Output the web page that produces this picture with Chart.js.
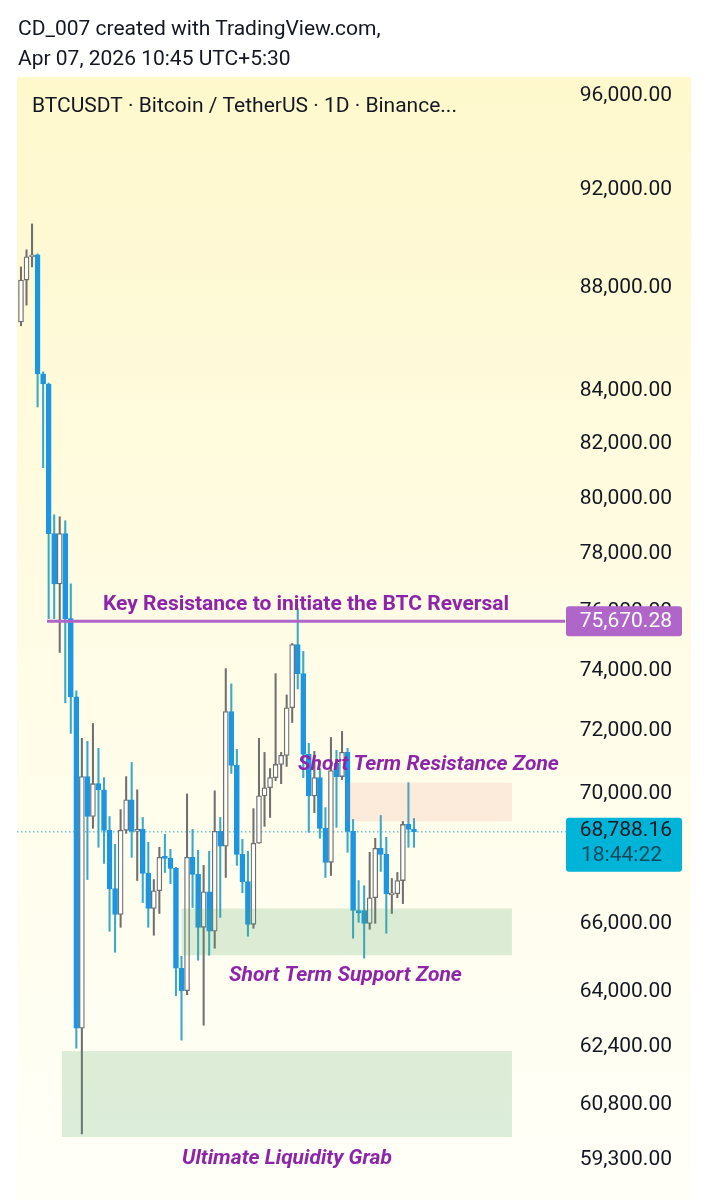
<!DOCTYPE html>
<html>
<head>
<meta charset="utf-8">
<title>BTCUSDT</title>
<script src="https://cdn.jsdelivr.net/npm/chart.js@4/dist/chart.umd.min.js"></script>
<style>
    html, body { margin: 0; padding: 0; background: #fff; }
    #wrap { position: relative; width: 708px; height: 1200px; overflow: hidden; }
    #chart { position: absolute; left: 0; top: 0; }
    #header {
        position: absolute; left: 18px; top: 13px; z-index: 2;
        font: 21px/30px Roboto, sans-serif; color: #131722; white-space: nowrap;
    }
</style>
</head>
<body>
<div id="wrap">
    <div id="header">CD_007 created with TradingView.com,<br>Apr 07, 2026 10:45 UTC+5:30</div>
    <canvas id="chart" width="708" height="1200"></canvas>
</div>
<script>
// --- Data ---
const opens = [86650,88305,89239,89320,84634,84246,78732,76961,78732,75758,73120,62940,70531,69269,70305,70111,68836,67042,66265,68836,69794,68805,68866,67506,66442,66980,68000,67969,67660,64669,64018,68000,67475,65880,66949,65762,68805,68341,72635,70888,68093,67258,65969,68434,69918,70176,70499,70920,71211,72764,74878,73896,71243,69918,70499,68897,67846,70952,70531,71308,68805,66383,66383,65998,66767,68279,68093,66856,66887,67289,69021,68866];
const highs = [88833,89523,90578,89361,84712,84285,79405,79334,79192,76961,73320,71761,71664,72247,71438,70499,69269,68403,69485,70531,70985,70111,69238,68465,67320,68310,68712,68248,67691,65023,69980,68866,68217,67753,68186,70078,69238,74065,73557,71405,68558,68186,69516,71761,71308,70790,73896,71308,73185,74912,76097,74641,71600,71340,70790,69547,71793,71373,71988,71438,69176,67289,67134,68155,68589,69300,68620,67351,67536,69114,70337,69207];
const lows = [86495,87309,88833,83375,81114,75758,75758,74607,72926,71923,62375,59995,67320,68897,68310,67815,65762,65141,65880,68743,68000,67289,66620,65880,65644,66294,67536,67196,63872,62600,63900,66472,64905,63024,65053,65259,66176,67382,70629,67753,66918,65614,65851,68434,68959,69238,70402,70305,70855,72279,73388,70499,68774,69392,68589,67382,67444,68928,70434,68155,65555,66028,64964,65821,65998,67567,65703,66294,66767,66590,68310,68310];
const closes = [88305,89239,89320,84634,84246,78732,76961,78732,75758,73120,62940,70531,69269,70305,70111,68836,67042,66265,68836,69794,68805,68866,67506,66442,66980,68000,67969,67660,64669,64018,68000,67475,65880,66949,65762,68805,68341,72635,70888,68093,67258,65969,68434,69918,70176,70499,70920,71211,72764,74878,73896,71243,69918,70499,68897,67846,70726,70531,71308,68805,66383,66310,65998,66767,68279,68093,66887,66887,67289,69021,68866,68788];

const tickValues = [96000,92000,88000,84000,82000,80000,78000,76000,74000,72000,70000,66000,64000,62400,60800,59300];
const keyResistance = 75670.28;
const lastPrice = 68788.16;
const countdown = '18:44:22';

// zones: [first bar, last bar, low price, high price]
const resistanceZone = [58.9, 88.7, 69114, 70337];
const supportZone = [29, 88.7, 65053, 66442];
const liquidityZone = [7.4, 88.7, 59914, 62290];

// --- Colours ---
const BLUE = '#1C96E0';
const BLUE_WICK = '#37A9C9';
const GREY = '#707073';
const HOLLOW = '#FFFFFA';
const PURPLE_TEXT = '#8E24AA';

const isUp = closes.map((c, i) => c >= opens[i]);

function fmt(v) {
    return v.toLocaleString('en-US', { minimumFractionDigits: 2, maximumFractionDigits: 2 });
}

// Plot background and zones
const backgroundPlugin = {
    id: 'background',
    beforeDraw(chart) {
        const { ctx, chartArea: a } = chart;
        const g = ctx.createLinearGradient(0, a.top, 0, a.bottom);
        g.addColorStop(0, '#FEF8CC');
        g.addColorStop(0.5, '#FFFCE6');
        g.addColorStop(1, '#FFFFF8');
        ctx.fillStyle = g;
        ctx.fillRect(a.left, a.top, a.right - a.left, a.bottom - a.top);
    }
};

function drawZone(chart, zone, colour) {
    const { ctx, scales: { x, y } } = chart;
    const left = x.getPixelForValue(zone[0]);
    const right = x.getPixelForValue(zone[1]);
    const top = y.getPixelForValue(zone[3]);
    const bottom = y.getPixelForValue(zone[2]);
    ctx.fillStyle = colour;
    ctx.fillRect(left, top, right - left, bottom - top);
}

// Zones sit over the candles, half see-through
const zonesPlugin = {
    id: 'zones',
    afterDatasetsDraw(chart) {
        drawZone(chart, resistanceZone, 'rgba(235,120,120,0.14)');
        drawZone(chart, supportZone, 'rgba(80,165,100,0.2)');
        drawZone(chart, liquidityZone, 'rgba(80,165,100,0.2)');
    }
};

function text(ctx, str, x, y, font, colour, align) {
    ctx.font = font;
    ctx.fillStyle = colour;
    ctx.textAlign = align || 'left';
    ctx.textBaseline = 'middle';
    ctx.fillText(str, x, y);
}

const labelsPlugin = {
    id: 'labels',
    afterDraw(chart) {
        const { ctx, scales: { y } } = chart;
        ctx.save();
        text(ctx, 'BTCUSDT · Bitcoin / TetherUS · 1D · Binance...', 32, 107, '21px Roboto', '#131722');
        text(ctx, 'Key Resistance to initiate the BTC Reversal', 103, 605, 'bold 21px Roboto', PURPLE_TEXT);
        text(ctx, 'Short Term Resistance Zone', 298, 765, 'italic bold 21px Roboto', PURPLE_TEXT);
        text(ctx, 'Short Term Support Zone', 229, 976, 'italic bold 21px Roboto', PURPLE_TEXT);
        text(ctx, 'Ultimate Liquidity Grab', 182, 1159, 'italic bold 21px Roboto', PURPLE_TEXT);

        // price tags on the axis
        const keyY = y.getPixelForValue(keyResistance);
        ctx.fillStyle = '#B066C8';
        ctx.beginPath();
        ctx.roundRect(566, keyY - 15, 116, 30, 3);
        ctx.fill();
        text(ctx, fmt(keyResistance), 672, keyY + 1, '21px Roboto', '#FFFFFF', 'right');

        const lastY = y.getPixelForValue(lastPrice);
        ctx.fillStyle = '#00B4D8';
        ctx.beginPath();
        ctx.roundRect(566, lastY - 14, 116, 54, 3);
        ctx.fill();
        text(ctx, fmt(lastPrice), 672, lastY - 1, '21px Roboto', '#131722', 'right');
        text(ctx, countdown, 662, lastY + 24, '21px Roboto', '#0F4A5C', 'right');
        ctx.restore();
    }
};

new Chart(document.getElementById('chart').getContext('2d'), {
    type: 'bar',
    data: {
        datasets: [
            {
                // dotted last price line
                type: 'line',
                data: [{ x: -0.72, y: lastPrice }, { x: 98.5, y: lastPrice }],
                borderColor: '#2FA8C4',
                borderWidth: 1,
                borderDash: [1.5, 2.5],
                pointRadius: 0,
                order: 3
            },
            {
                // wicks
                data: highs.map((h, i) => ({ x: i, y: [lows[i], h] })),
                backgroundColor: isUp.map(u => u ? GREY : BLUE_WICK),
                barThickness: 1.4,
                grouped: false,
                order: 2
            },
            {
                // bodies
                data: opens.map((o, i) => ({ x: i, y: [Math.min(o, closes[i]), Math.max(o, closes[i])] })),
                backgroundColor: isUp.map(u => u ? HOLLOW : BLUE),
                borderColor: isUp.map(u => u ? GREY : BLUE),
                borderWidth: 1.3,
                borderSkipped: false,
                barThickness: 5,
                minBarLength: 2,
                grouped: false,
                order: 1
            },
            {
                // key resistance line
                type: 'line',
                data: [{ x: 4.7, y: keyResistance }, { x: 98.3, y: keyResistance }],
                borderColor: '#B066C8',
                borderWidth: 3,
                pointRadius: 0,
                order: 0
            }
        ]
    },
    plugins: [backgroundPlugin, zonesPlugin, labelsPlugin],
    options: {
        responsive: false,
        animation: false,
        events: [],
        layout: { padding: { left: 17, right: 17, top: 77, bottom: 0 } },
        plugins: { legend: { display: false }, tooltip: { enabled: false } },
        scales: {
            x: { type: 'linear', display: false, offset: false, min: -0.72, max: 121.05 },
            y: {
                type: 'logarithmic',
                position: 'right',
                min: 58230,
                max: 96807,
                grid: { display: false },
                border: { display: false },
                afterBuildTicks(scale) {
                    scale.ticks = tickValues.map(v => ({ value: v }));
                },
                // mirrored labels sit inside the plot, so the axis takes no room
                afterFit(scale) {
                    scale.width = 0;
                    scale.paddingTop = 0;
                    scale.paddingBottom = 0;
                },
                ticks: {
                    mirror: true,
                    padding: -19,
                    autoSkip: false,
                    color: '#131722',
                    font: { family: 'Roboto', size: 21 },
                    callback: v => fmt(v)
                }
            }
        }
    }
});
</script>
</body>
</html>
